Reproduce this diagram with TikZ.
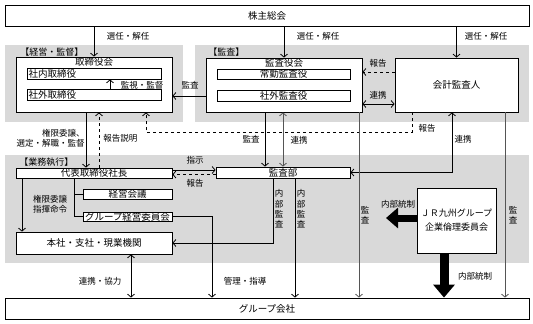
\documentclass[tikz,border=0pt]{standalone}
\usepackage{fontspec}
\setmainfont{Noto Sans CJK JP}
\usetikzlibrary{arrows.meta,positioning}
\definecolor{bggray}{HTML}{D9D9D9}
\definecolor{wire}{HTML}{555555}

\begin{document}
\begin{tikzpicture}[x=1pt,y=-1pt,line width=0.8pt,>={Straight Barb[length=3pt,width=7pt]},
    every node/.style={font=\fontsize{8.5}{10}\selectfont,inner sep=0pt},
    box/.style={draw,fill=white,font=\fontsize{9.5}{11}\selectfont},
    leftbox/.style={box,align=left,inner xsep=1.5pt},
    region/.style={fill=bggray},
    vlabel/.style={align=center,font=\fontsize{8.5}{10.3}\selectfont},
    gline/.style={draw=wire},
    bigarrow/.style={-{Triangle[width=21pt,length=13pt]},line width=9pt}]
    \useasboundingbox (0,0) rectangle (533,324);

    % panels
    \fill[region] (5,45) rectangle (183,122);
    \fill[region] (195,45) rectangle (529,122);
    \fill[region] (5,155) rectangle (529,263);
    \node[anchor=west,font=\fontsize{9}{11}\selectfont] (keieit) at (20,52) {【経営・監督】};
    \node[anchor=west,font=\fontsize{9}{11}\selectfont] (kansat) at (208,52) {【監査】};
    \node[anchor=west,font=\fontsize{9}{11}\selectfont] (gyomut) at (19,162) {【業務執行】};

    % boxes
    \node[box,minimum width=524,minimum height=21] (soukai) at (267,15.5) {株主総会};
    \node[box,minimum width=156,minimum height=55] (board) at (94,84.5) {};
    \node[below=1pt of board.north,font=\fontsize{9.5}{11}\selectfont] (boardt) {取締役会};
    \node[leftbox,text width=131pt,minimum height=11] (naibu) at (94,73.5) {社内取締役};
    \node[leftbox,text width=131pt,minimum height=11] (gaibu) at (94,94.5) {社外取締役};
    \node[box,minimum width=156,minimum height=54] (kanyaku) at (284,85) {};
    \node[below=1pt of kanyaku.north,font=\fontsize{9.5}{11}\selectfont] (kanyakut) {監査役会};
    \node[box,minimum width=133,minimum height=10] (joukin) at (283.5,74) {常勤監査役};
    \node[box,minimum width=133,minimum height=11] (shagai) at (283.5,95.5) {社外監査役};
    \node[box,minimum width=123,minimum height=54] (kaikei) at (456.5,85) {会計監査人};
    \node[box,minimum width=156,minimum height=10] (ceo) at (94,173) {代表取締役社長};
    \node[box,minimum width=134,minimum height=11] (kansabu) at (283,172.5) {監査部};
    \node[box,minimum width=89,minimum height=10] (kaigi) at (127.5,194) {経営会議};
    \node[box,minimum width=89,minimum height=9] (iinkai) at (127.5,216.5) {グループ経営委員会};
    \node[box,minimum width=156,minimum height=22] (honsha) at (94,243) {本社・支社・現業機関};
    \node[box,minimum width=79,minimum height=65,align=center,
          font=\fontsize{9}{14}\selectfont] (jr) at (456.5,220.5) {ＪＲ九州グループ\\企業倫理委員会};
    \node[box,minimum width=524,minimum height=21] (group) at (267,308.5) {グループ会社};
    \coordinate (ctl) at (386,218);

    % shareholders
    \draw[->] (soukai.south -| board.north) -- (board.north);
    \node (sen1) at (128,36) {選任・解任};
    \draw[->] (soukai.south -| kanyaku.north) -- (kanyaku.north);
    \node (sen2) at (318,36) {選任・解任};
    \draw[->] (soukai.south -| kaikei.north) -- (kaikei.north);
    \node (sen3) at (486,36) {選任・解任};

    % board / audit
    \draw[->] ([xshift=16pt]gaibu.north) -- ([xshift=16pt]naibu.south);
    \node (kanshi) at (142,85) {監視・監督};
    \draw[->] ([yshift=-11pt]kanyaku.west) -- ([yshift=-11pt]kanyaku.west -| board.east);
    \node (kansa1) at (190,85) {監査};
    \draw[->,dashed] ([yshift=13pt]kaikei.west) -- ([yshift=13pt]kaikei.west -| kanyaku.east);
    \node (hou1) at (378,63) {報告};
    \draw[<->] ([yshift=-19pt]kanyaku.east) -- ([yshift=-19pt]kanyaku.east -| kaikei.west);
    \node (ren1) at (378,95) {連携};
    \draw[->,dashed] ([xshift=-44.5pt]kaikei.south) -- ++(0,20) -| ([xshift=52pt]board.south);
    \node (hou2) at (427,128) {報告};

    % board to ceo
    \draw[->] ([xshift=-8pt]board.south) -- ([xshift=-8pt]ceo.north);
    \node[anchor=east,align=right] (kengen1) at (85,138) {権限委譲、\\選定・解職・監督};
    \draw[->,dashed] ([xshift=5pt]ceo.north) -- ([xshift=5pt]board.south);
    \node[anchor=west] (setsu) at (103,138) {報告説明};

    % audit department
    \draw[->] ([xshift=-19pt]kanyaku.south) -- ([xshift=-19pt]kanyaku.south |- kansabu.north);
    \node (kansa2) at (251,139) {監査};
    \draw[<->,gline] (kanyaku.south -| kansabu.north) -- (kansabu.north);
    \node (ren2) at (299,140) {連携};
    \draw[<->] ([xshift=-4.5pt]kaikei.south) |- (kansabu.east);
    \node (ren3) at (463,139) {連携};
    \draw[->] ([yshift=3pt]ceo.east) -- ([yshift=3pt]ceo.east -| kansabu.west);
    \node (shiji) at (195,160) {指示};
    \draw[->,dashed] ([yshift=-2pt]kansabu.west) -- ([yshift=-2pt]kansabu.west -| ceo.east);
    \node (hou3) at (195,183) {報告};
    \draw[->] ([xshift=-10pt]kansabu.south) |- (honsha.east);
    \node[vlabel] (nai1) at (279,209) {内\\部\\監\\査};
    \draw[->] ([xshift=12pt]kansabu.south) -- ([xshift=12pt]kansabu.south |- group.north);
    \node[vlabel] (nai2) at (301,209) {内\\部\\監\\査};

    % audit lines to group
    \draw[->,gline] ([xshift=75pt]kanyaku.south) -- ([xshift=75pt]kanyaku.south |- group.north);
    \node[vlabel] (kansa3) at (365,215) {監\\査};
    \draw[->,gline] ([xshift=48.5pt]kaikei.south) -- ([xshift=48.5pt]kaikei.south |- group.north);
    \node[vlabel] (kansa4) at (513,215) {監\\査};

    % execution
    \draw ([xshift=-20pt]ceo.south) |- (kaigi.west);
    \draw ([xshift=-20pt]ceo.south) |- (iinkai.west);
    \draw[->] (iinkai.east) -| ([xshift=-55pt]group.north);
    \node (kanri) at (245,281) {管理・指導};
    \draw[->] ([xshift=-72pt]ceo.south) -- ([xshift=-72pt]honsha.north);
    \node[align=center] (kengen2) at (50,204) {権限委譲\\指揮命令};
    \draw[<->] ([xshift=37pt]honsha.south) -- ([xshift=37pt]honsha.south |- group.north);
    \node (kyou) at (100,281) {連携・協力};

    % internal control
    \draw[bigarrow,-{Triangle[width=20pt,length=12pt]},line width=7pt] (jr.west |- ctl) -- (ctl);
    \node (tou1) at (398,204) {内部統制};
    \draw[bigarrow] ([xshift=-12.5pt]jr.south) -- ([xshift=-12.5pt]jr.south |- group.north);
    \node (tou2) at (475,276) {内部統制};
\end{tikzpicture}
\end{document}
